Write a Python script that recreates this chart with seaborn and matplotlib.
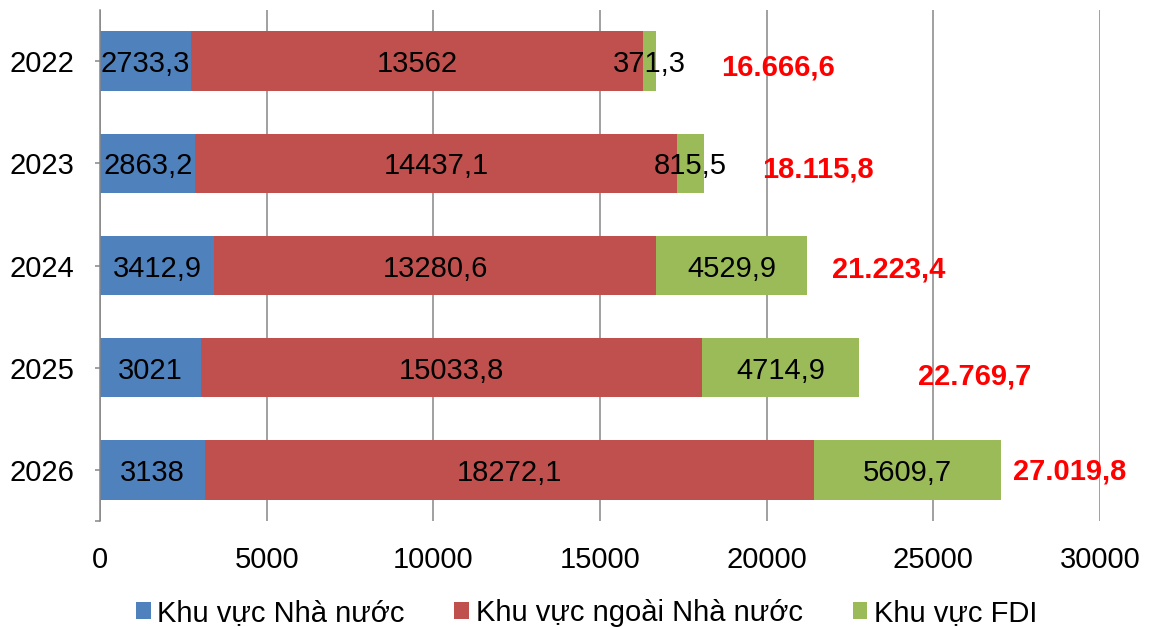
import matplotlib
matplotlib.use("Agg")
import matplotlib.pyplot as plt
from matplotlib.patches import Patch
import seaborn as sns
import numpy as np
import pandas as pd

years = ["2022", "2023", "2024", "2025", "2026"]
nha_nuoc = [2733.3, 2863.2, 3412.9, 3021, 3138]
ngoai_nha_nuoc = [13562, 14437.1, 13280.6, 15033.8, 18272.1]
fdi = [371.3, 815.5, 4529.9, 4714.9, 5609.7]
series_names = ["Khu vực Nhà nước", "Khu vực ngoài Nhà nước", "Khu vực FDI"]
xticks = [0, 5000, 10000, 15000, 20000, 25000, 30000]

colors = ["#4F81BD", "#C0504D", "#9BBB59"]
# offsets (points) of the total labels, as placed in the reference
total_dx = [47.5, 42, 18, 42.5, 8.6]
total_dy = [-2.2, -2.2, -1.0, -3.8, 1.0]

sns.set_theme(style="white")
plt.rcParams["font.family"] = ["Liberation Sans", "DejaVu Sans"]
plt.rcParams["text.color"] = "black"
plt.rcParams["xtick.color"] = "black"
plt.rcParams["ytick.color"] = "black"

FS = 21

fig = plt.figure(figsize=(11.5, 6.27), dpi=100)
ax = fig.add_axes([0.087, 0.169, 0.8695, 0.815])

a = np.array(nha_nuoc, dtype=float)
b = np.array(ngoai_nha_nuoc, dtype=float)
c = np.array(fdi, dtype=float)
cum2 = a + b
tot = a + b + c

df = pd.DataFrame({"year": years, "a": a, "ab": cum2, "abc": tot})

sns.barplot(data=df, x="abc", y="year", orient="h", color=colors[2], width=0.58,
            saturation=1, linewidth=0, ax=ax)
sns.barplot(data=df, x="ab", y="year", orient="h", color=colors[1], width=0.58,
            saturation=1, linewidth=0, ax=ax)
sns.barplot(data=df, x="a", y="year", orient="h", color=colors[0], width=0.58,
            saturation=1, linewidth=0, ax=ax)

def fmt(v):
    s = f"{v:.1f}"
    if s.endswith(".0"):
        s = s[:-2]
    return s.replace(".", ",")

def fmt_total(v):
    s = f"{v:,.1f}"
    return s.replace(",", "X").replace(".", ",").replace("X", ".")

for i in range(len(years)):
    starts = [0, a[i], cum2[i]]
    widths = [a[i], b[i], c[i]]
    for s, w in zip(starts, widths):
        ax.text(s + w / 2, i, fmt(w), ha="center", va="center_baseline",
                fontsize=FS, color="black", zorder=5)
    ax.annotate(fmt_total(tot[i]), xy=(tot[i], i), xytext=(total_dx[i], total_dy[i]),
                textcoords="offset points", ha="left", va="center_baseline",
                fontsize=FS, fontweight="bold", color="#FF0000", zorder=5)

ax.set_xlim(0, 30000)
ax.set_ylim(4.5, -0.5)
ax.set_xticks(xticks)
ax.set_xticklabels([str(t) for t in xticks])
ax.set_xlabel("")
ax.set_ylabel("")
ax.grid(axis="x", color="#868686", linewidth=1.1)
ax.grid(axis="y", visible=False)
ax.set_axisbelow(True)
for side in ["top", "right", "bottom"]:
    ax.spines[side].set_visible(False)
ax.spines["left"].set_color("#868686")
ax.spines["left"].set_linewidth(1.1)
ax.tick_params(axis="x", length=0, pad=18, labelsize=FS, labelcolor="black")
ax.tick_params(axis="y", which="both", length=3.6, width=1.1, color="#868686",
               pad=15, labelsize=FS, labelcolor="black", left=True)
ax.set_yticks([4.5], minor=True)

handles = [Patch(facecolor=col, edgecolor="none") for col in colors]
leg = fig.legend(handles, series_names, loc="center", bbox_to_anchor=(0.51, 0.022),
                 ncol=3, frameon=False, fontsize=FS, handlelength=0.51, handleheight=0.51,
                 handletextpad=0.22, columnspacing=1.71)
for t in leg.get_texts():
    t.set_color("black")

fig.savefig("out.png", dpi=100)
